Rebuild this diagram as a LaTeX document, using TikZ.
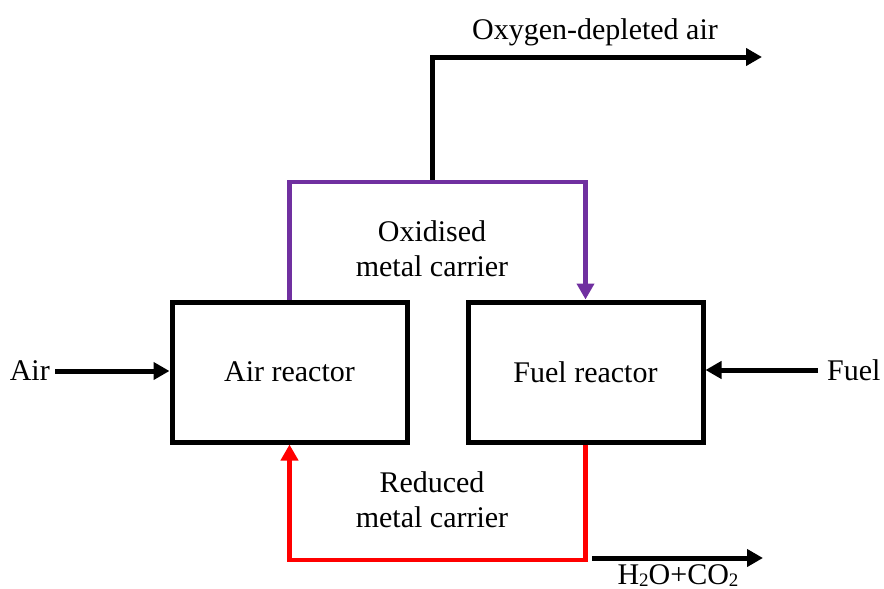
\documentclass[tikz,border=0pt]{standalone}
\usepackage{fontspec}
\setmainfont{Liberation Serif}
\usetikzlibrary{arrows.meta}
\definecolor{oxpurple}{RGB}{112,48,160}
\definecolor{redred}{RGB}{255,0,0}
\newcommand{\lowtwo}{\raisebox{-2.5pt}{\fontsize{19}{19}\selectfont 2}}
\tikzset{
  reactor/.style={draw=black, line width=5pt, minimum width=235pt, minimum height=140pt, font=\fontsize{30}{35}\selectfont},
  lbl/.style={font=\fontsize{30}{35}\selectfont, align=center, inner sep=2pt},
  flow/.style={line width=5pt, -{Triangle[length=16pt,width=17pt]}},
  cflow/.style={line width=4.5pt, -{Triangle[length=16pt,width=17pt]}},
}
\begin{document}
\begin{tikzpicture}[x=1pt,y=-1pt]
\useasboundingbox (0,0) rectangle (884,589);
\node[reactor] (air) at (289.5,372) {Air reactor};
\node[reactor] (fuel) at (585.5,372) {Fuel reactor};
\coordinate (top) at (432,182);
\coordinate (oxyend) at (762,57);
\coordinate (bot) at (432,560);
\coordinate (hstart) at (592,558);
\coordinate (hend) at (763,558);
\node[lbl] (oxylbl) at (595,32) {Oxygen-depleted air};
\node[lbl] (oxid) at (432,249) {Oxidised\\metal carrier};
\node[lbl] (red) at (432,500) {Reduced\\metal carrier};
\node[lbl, anchor=east] (airlbl) at (52,371) {Air};
\node[lbl, anchor=west, inner sep=0pt] (fuellbl) at (827,370) {Fuel};
\node[lbl, anchor=base, inner sep=0pt] (hlbl) at (678,584) {H\lowtwo O+CO\lowtwo};
% exhaust
\draw[flow] (top) |- (oxyend);
% oxidised carrier
\draw[cflow, draw=oxpurple] (air.north) |- (top) -| (fuel.north);
% reduced carrier
\draw[cflow, draw=redred] (fuel.south) |- (bot) -| (air.south);
% inputs/outputs
\draw[flow] ([xshift=3pt]airlbl.east) -- (airlbl.east -| air.west);
\draw[flow] ([xshift=-9pt]fuellbl.west) -- (fuellbl.west -| fuel.east);
\draw[flow] (hstart) -- (hend);
\end{tikzpicture}
\end{document}
